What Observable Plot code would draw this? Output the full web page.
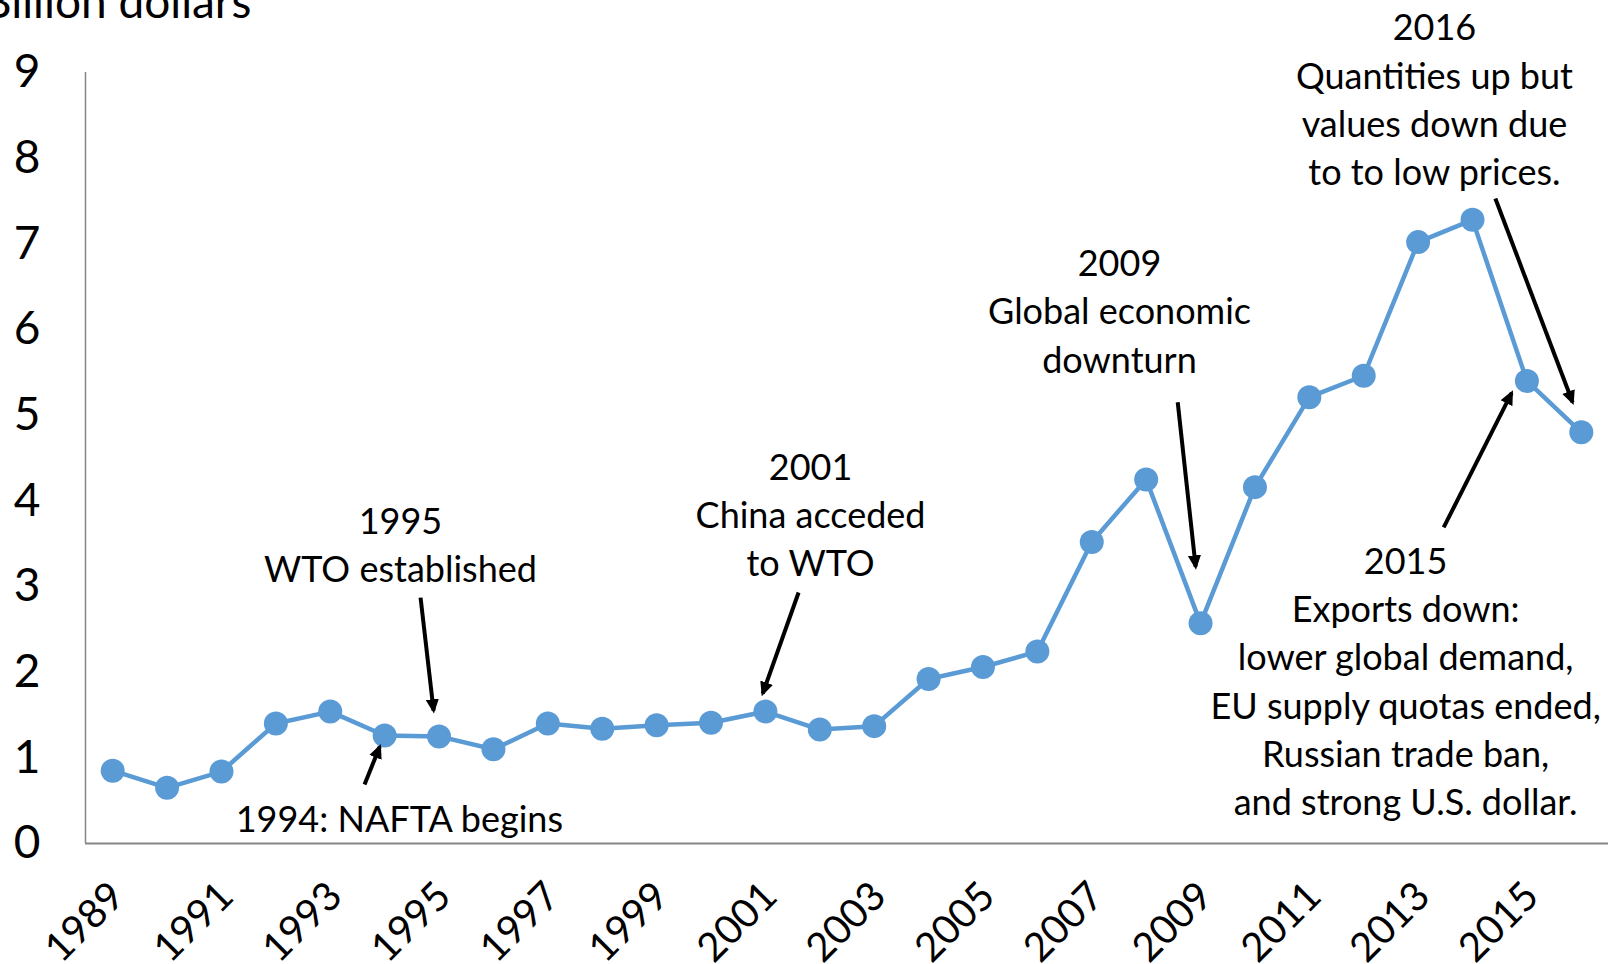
<!DOCTYPE html>
<html><head><meta charset="utf-8">
<script src="https://cdn.jsdelivr.net/npm/d3@7"></script>
<script src="https://cdn.jsdelivr.net/npm/@observablehq/plot@0.6"></script>
<style>
html,body{margin:0;padding:0;background:#fff;overflow:hidden}
svg{display:block}
</style></head><body><div id="chart"></div>
<script>
// ---- data ----
const years = [1989,1990,1991,1992,1993,1994,1995,1996,1997,1998,1999,2000,2001,2002,2003,2004,2005,2006,2007,2008,2009,2010,2011,2012,2013,2014,2015,2016];
const values = [0.85,0.65,0.84,1.40,1.54,1.26,1.25,1.10,1.40,1.34,1.38,1.41,1.54,1.33,1.37,1.92,2.06,2.24,3.52,4.25,2.57,4.16,5.21,5.46,7.02,7.28,5.40,4.80];
const yTicks = [0,1,2,3,4,5,6,7,8,9];
const xTickYears = [1989,1991,1993,1995,1997,1999,2001,2003,2005,2007,2009,2011,2013,2015];
const yAxisTitle = "Billion dollars";
const chartTitle = "and associated events";

// annotation notes (anchor in data units)
const noteText = [
  "1995\nWTO established",
  "1994: NAFTA begins",
  "2001\nChina acceded\nto WTO",
  "2009\nGlobal economic\ndownturn",
  "2016\nQuantities up but\nvalues down due\nto to low prices.",
  "2015\nExports down:\nlower global demand,\nEU supply quotas ended,\nRussian trade ban,\nand strong U.S. dollar."
];
const noteX = [1994.29, 1994.27, 2001.83, 2007.51, 2013.30, 2012.77];
const noteY = [3.51, 0.315, 3.86, 6.24, 8.71, 1.92];

// arrows (data units)
const arrowX1 = [1994.66, 1993.63, 2001.61, 2008.58, 2014.42, 2013.47];
const arrowY1 = [2.87, 0.69, 2.93, 5.15, 7.53, 3.69];
const arrowX2 = [1994.90, 1993.91, 2000.95, 2008.91, 2015.84, 2014.72];
const arrowY2 = [1.55, 1.13, 1.75, 3.23, 5.15, 5.26];

// ---- build ----
const series = years.map((y, i) => ({year: y, value: values[i]}));
const notes = noteText.map((t, i) => ({text: t, x: noteX[i], y: noteY[i]}));
const arrows = arrowX1.map((x, i) => ({x1: x, y1: arrowY1[i], x2: arrowX2[i], y2: arrowY2[i]}));

const blue = "#5B9BD5";
const axisGray = "#868686";

function filledArrow(color, context) {
  const ns = "http://www.w3.org/2000/svg";
  const doc = (context && context.document) || document;
  const m = doc.createElementNS(ns, "marker");
  m.setAttribute("viewBox", "0 -5 10 10");
  m.setAttribute("refX", "8");
  m.setAttribute("refY", "0");
  m.setAttribute("markerWidth", "3.6");
  m.setAttribute("markerHeight", "3.6");
  m.setAttribute("orient", "auto");
  const p = doc.createElementNS(ns, "path");
  p.setAttribute("d", "M0,-4.6L10,0L0,4.6Z");
  p.setAttribute("fill", color);
  p.setAttribute("stroke", "none");
  m.appendChild(p);
  return m;
}

function build(useMarker) {
  const arrowMark = useMarker
    ? Plot.link(arrows, {x1: "x1", y1: "y1", x2: "x2", y2: "y2", stroke: "black", strokeWidth: 4, markerEnd: filledArrow})
    : Plot.arrow(arrows, {x1: "x1", y1: "y1", x2: "x2", y2: "y2", stroke: "black", strokeWidth: 4, headLength: 14, headAngle: 50});
  return Plot.plot({
    width: 1608,
    height: 964,
    marginLeft: 85,
    marginRight: 0,
    marginTop: 72,
    marginBottom: 121,
    x: {domain: [1988.5, 2016.5], axis: null},
    y: {domain: [0, 9], axis: null},
    style: {fontFamily: "Lato, 'Open Sans', sans-serif", color: "black", background: "white"},
    marks: [
      Plot.ruleY([0], {x1: 1988.5, x2: 2016.5, stroke: axisGray, strokeWidth: 2}),
      Plot.ruleX([1988.5], {y1: 0, y2: 9, stroke: axisGray, strokeWidth: 1.5}),
      Plot.axisY({ticks: yTicks, tickSize: 0, tickPadding: 45, fontSize: 46, tickFormat: d => String(d)}),
      Plot.text(xTickYears, {x: d => d, y: 0, text: d => String(d), rotate: -45, textAnchor: "end", lineAnchor: "middle", dx: 5, dy: 46, fontSize: 40}),
      Plot.line(series, {x: "year", y: "value", stroke: blue, strokeWidth: 4.5}),
      Plot.dot(series, {x: "year", y: "value", r: 12, fill: blue, stroke: "none"}),
      arrowMark,
      Plot.text(notes, {x: "x", y: "y", text: "text", fontSize: 36, lineHeight: 1.34, textAnchor: "middle", lineAnchor: "middle"}),
      Plot.text([yAxisTitle], {x: 1991.55, y: 9.64, text: d => d, fontSize: 46, textAnchor: "end", lineAnchor: "bottom"}),
      Plot.text([chartTitle], {x: 2002.45, y: 9.855, text: d => d, fontSize: 55, fontWeight: "bold", fill: "#606060", textAnchor: "middle", lineAnchor: "bottom"})
    ]
  });
}

let chart;
try { chart = build(true); } catch (e) { chart = build(false); }
document.getElementById("chart").appendChild(chart);
</script>
</body></html>
